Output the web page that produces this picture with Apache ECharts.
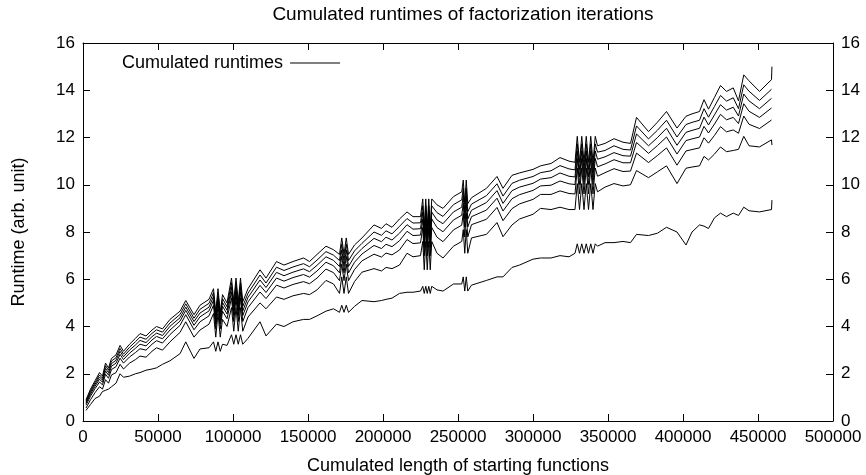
<!DOCTYPE html>
<html>
<head>
<meta charset="utf-8">
<script src="https://cdn.jsdelivr.net/npm/echarts@6/dist/echarts.min.js"></script>
<style>
html,body{margin:0;padding:0;background:#fff;}
#chart{width:866px;height:475px;}
</style>
</head>
<body>
<div id="chart"></div>
<script>
// Cumulated length of starting functions (shared x values)
var xValues = [
  2000,5000,8000,11000,13000,15000,17000,19000,22000,24700,27000,31000,35000,38000,42000,46000,49000,53000,58000,64700,68500,74000,78000,84000,
  87000,88500,90000,91500,93000,96000,
  99000,100500,102000,103500,105000,106500,110000,118000,122000,129000,134000,140000,147000,151000,156000,162000,167000,
  171000,172500,174000,175500,177000,181000,186000,194000,199000,202000,206000,211000,216000,220000,225000,
  226500,227500,228500,229500,230500,231500,232500,236000,240000,247000,
  252500,253500,254500,255500,256500,259000,269000,276000,280000,286000,291000,300000,305000,312000,318000,324000,
  328000,329500,331000,332500,334000,335500,337000,338500,340000,341500,343000,
  348000,354000,360000,365000,369000,377000,383000,389000,396000,402000,406000,411000,414000,417000,421000,425000,429000,433500,437000,440500,444000,451000,459000,459300
];
// Cumulated runtimes, iteration 1 .. 7
var iter1 = [
  0.45,0.7,0.95,1.05,1.25,1.3,1.35,1.45,1.6,2.0,1.85,1.9,2.0,2.05,2.15,2.2,2.25,2.4,2.55,2.85,3.35,2.65,3.05,3.1,
  3.35,2.95,3.35,2.95,3.25,3.2,
  3.65,3.25,3.65,3.25,3.65,3.25,3.5,4.2,3.6,4.1,4.0,4.2,4.3,4.3,4.45,4.65,4.75,
  4.6,4.9,4.6,4.9,4.6,4.85,5.1,5.05,5.1,5.15,5.2,5.4,5.45,5.45,5.5,
  5.7,5.4,5.7,5.4,5.7,5.4,5.7,5.55,5.5,5.8,
  5.8,6.1,5.5,6.1,5.5,5.75,5.95,6.1,6.1,6.5,6.6,6.85,6.9,6.9,7.0,6.95,
  7.1,7.5,7.1,7.5,7.1,7.5,7.1,7.5,7.1,7.5,7.4,
  7.55,7.55,7.6,7.55,7.9,7.85,7.95,8.2,8.0,7.45,8.0,8.3,8.25,8.15,8.6,8.8,8.65,8.8,8.7,9.05,8.9,8.85,8.95,9.35
];
var iter2 = [
  0.55,0.9,1.2,1.45,1.35,1.75,1.6,1.95,2.05,2.4,2.2,2.45,2.6,2.75,2.7,2.95,3.1,3.0,3.35,3.75,4.2,3.55,3.85,4.1,
  4.55,3.55,4.55,3.55,4.3,4.0,
  4.8,3.8,4.8,3.8,4.8,3.8,4.4,5.0,4.75,5.25,5.15,5.3,5.4,5.35,5.55,5.95,5.8,
  5.4,6.1,5.4,6.1,5.4,5.9,6.3,6.45,6.35,6.5,6.45,6.6,7.1,6.95,7.0,
  7.6,6.4,7.6,6.4,7.6,6.4,7.6,7.1,6.9,7.4,
  7.6,8.1,7.1,8.1,7.1,7.75,7.9,8.4,7.8,8.3,8.55,8.75,9.0,8.95,9.05,8.95,
  8.95,10.05,8.95,10.05,8.95,10.05,8.95,10.05,8.95,10.05,9.7,
  9.9,10.05,9.95,10.0,10.6,10.3,10.55,10.8,10.05,10.7,10.75,10.8,11.2,11.05,11.3,11.6,11.4,11.45,11.5,12.05,11.65,11.6,11.9,11.68
];
var iter3 = [
  0.67,1.05,1.37,1.65,1.53,1.98,1.81,2.18,2.30,2.66,2.45,2.71,2.90,3.06,3.0,3.25,3.40,3.30,3.66,4.05,4.50,3.86,4.20,4.45,
  4.90,3.90,4.90,3.90,4.65,4.33,
  5.21,4.21,5.21,4.21,5.21,4.21,4.80,5.46,5.18,5.75,5.63,5.78,5.90,5.81,6.05,6.43,6.28,
  5.94,6.64,5.94,6.64,5.94,6.41,6.78,7.06,6.94,7.11,7.03,7.24,7.68,7.51,7.54,
  8.19,6.99,8.19,6.99,8.19,6.99,8.19,7.78,7.59,8.09,
  8.29,8.79,7.79,8.79,7.79,8.31,8.54,9.04,8.48,8.99,9.19,9.38,9.59,9.59,9.74,9.63,
  9.61,10.71,9.61,10.71,9.61,10.71,9.61,10.71,9.61,10.71,10.36,
  10.51,10.68,10.56,10.58,11.34,10.94,11.24,11.56,10.83,11.43,11.49,11.56,11.99,11.76,12.09,12.46,12.24,12.32,12.18,12.91,12.56,12.38,12.74,12.74
];
var iter4 = [
  0.74,1.14,1.47,1.77,1.64,2.12,1.94,2.32,2.45,2.82,2.60,2.87,3.08,3.25,3.18,3.43,3.58,3.48,3.85,4.23,4.68,4.05,4.41,4.66,
  5.11,4.11,5.11,4.11,4.86,4.53,
  5.46,4.46,5.46,4.46,5.46,4.46,5.04,5.74,5.44,6.05,5.92,6.07,6.20,6.09,6.35,6.72,6.57,
  6.27,6.97,6.27,6.97,6.27,6.72,7.07,7.43,7.30,7.48,7.38,7.63,8.03,7.85,7.87,
  8.55,7.35,8.55,7.35,8.55,7.35,8.55,8.19,8.01,8.51,
  8.71,9.21,8.21,9.21,8.21,8.65,8.93,9.43,8.89,9.41,9.58,9.76,9.95,9.98,10.16,10.04,
  10.01,11.11,10.01,11.11,10.01,11.11,10.01,11.11,10.01,11.11,10.76,
  10.88,11.06,10.93,10.93,11.79,11.33,11.66,12.02,11.30,11.87,11.94,12.02,12.47,12.19,12.57,12.98,12.75,12.85,12.59,13.43,13.11,12.85,13.25,13.25
];
var iter5 = [
  0.79,1.21,1.55,1.86,1.73,2.23,2.05,2.43,2.57,2.95,2.72,3.0,3.22,3.41,3.32,3.57,3.72,3.62,4.01,4.37,4.82,4.21,4.57,4.82,
  5.27,4.27,5.27,4.27,5.02,4.69,
  5.66,4.66,5.66,4.66,5.66,4.66,5.23,5.97,5.65,6.29,6.15,6.30,6.44,6.32,6.59,6.95,6.80,
  6.54,7.24,6.54,7.24,6.54,6.97,7.30,7.73,7.59,7.78,7.66,7.95,8.31,8.12,8.14,
  8.84,7.64,8.84,7.64,8.84,7.64,8.84,8.51,8.35,8.85,
  9.05,9.55,8.55,9.55,8.55,8.92,9.25,9.75,9.21,9.75,9.90,10.06,10.24,10.30,10.50,10.36,
  10.33,11.43,10.33,11.43,10.33,11.43,10.33,11.43,10.33,11.43,11.08,
  11.18,11.36,11.23,11.21,12.15,11.65,12.0,12.39,11.67,12.22,12.30,12.39,12.86,12.53,12.96,13.39,13.16,13.28,12.91,13.84,13.55,13.22,13.66,13.66
];
var iter6 = [
  0.84,1.28,1.62,1.95,1.81,2.34,2.15,2.54,2.68,3.07,2.83,3.12,3.36,3.55,3.46,3.71,3.86,3.76,4.15,4.51,4.96,4.35,4.73,4.98,
  5.43,4.43,5.43,4.43,5.18,4.84,
  5.85,4.85,5.85,4.85,5.85,4.85,5.41,6.18,5.84,6.51,6.37,6.52,6.66,6.53,6.81,7.17,7.02,
  6.79,7.49,6.79,7.49,6.79,7.20,7.52,8.0,7.86,8.05,7.92,8.24,8.57,8.38,8.39,
  9.11,7.91,9.11,7.91,9.11,7.91,9.11,8.82,8.66,9.16,
  9.36,9.86,8.86,9.86,8.86,9.18,9.54,10.04,9.52,10.06,10.19,10.35,10.51,10.59,10.81,10.67,
  10.63,11.73,10.63,11.73,10.63,11.73,10.63,11.73,10.63,11.73,11.38,
  11.45,11.65,11.50,11.47,12.49,11.94,12.31,12.73,12.02,12.55,12.64,12.73,13.22,12.86,13.32,13.78,13.54,13.68,13.22,14.23,13.96,13.57,14.04,14.04
];
var iter7 = [
  0.9,1.35,1.7,2.05,1.9,2.45,2.25,2.65,2.8,3.2,2.95,3.25,3.5,3.7,3.6,3.85,4.0,3.9,4.3,4.65,5.1,4.5,4.9,5.15,
  5.6,4.6,5.6,4.6,5.35,5.0,
  6.05,5.05,6.05,5.05,6.05,5.05,5.6,6.4,6.05,6.75,6.6,6.75,6.9,6.75,7.05,7.4,7.25,
  7.05,7.75,7.05,7.75,7.05,7.45,7.75,8.3,8.15,8.35,8.2,8.55,8.85,8.65,8.65,
  9.4,8.2,9.4,8.2,9.4,8.2,9.4,9.15,9.0,9.5,
  9.7,10.2,9.2,10.2,9.2,9.45,9.85,10.35,9.85,10.4,10.5,10.65,10.8,10.9,11.15,11.0,
  10.95,12.05,10.95,12.05,10.95,12.05,10.95,12.05,10.95,12.05,11.65,
  11.75,11.95,11.8,11.75,12.85,12.25,12.65,13.1,12.4,12.9,13.0,13.1,13.6,13.2,13.7,14.2,13.95,14.1,13.55,14.65,14.4,13.95,14.45,15.0
];
var iterations = [iter1, iter2, iter3, iter4, iter5, iter6, iter7];
var seriesName = 'Cumulated runtimes';
var titleText = 'Cumulated runtimes of factorization iterations';
var xName = 'Cumulated length of starting functions';
var yName = 'Runtime (arb. unit)';

var FONT = '"Liberation Sans", Arial, Helvetica, sans-serif';
var FS = 17;   // tick labels
var FT = 18;   // axis names, legend

var series = iterations.map(function (ys) {
  return {
    name: seriesName,
    type: 'line',
    xAxisIndex: 0,
    yAxisIndex: 0,
    symbol: 'none',
    showSymbol: false,
    smooth: false,
    lineStyle: { color: '#000', width: 1 },
    itemStyle: { color: '#000' },
    emphasis: { disabled: true },
    data: xValues.map(function (x, i) { return [x, ys[i]]; })
  };
});

function xAx(pos, showLabel, withName) {
  return {
    type: 'value', position: pos, min: 0, max: 500000, interval: 50000,
    axisLine: { show: true, onZero: false, lineStyle: { color: '#000', width: 1 } },
    axisTick: { show: true, inside: true, length: 7, lineStyle: { color: '#000' } },
    axisLabel: { show: showLabel, color: '#000', fontSize: FS, fontFamily: FONT, margin: 8,
      formatter: function (v) { return String(v); } },
    splitLine: { show: false },
    name: withName ? xName : '',
    nameLocation: 'middle', nameGap: 36,
    nameTextStyle: { color: '#000', fontSize: FT, fontFamily: FONT }
  };
}
function yAx(pos, withName) {
  return {
    type: 'value', position: pos, min: 0, max: 16, interval: 2,
    axisLine: { show: true, onZero: false, lineStyle: { color: '#000', width: 1 } },
    axisTick: { show: true, inside: true, length: 7, lineStyle: { color: '#000' } },
    axisLabel: { show: true, color: '#000', fontSize: FS, fontFamily: FONT, margin: 8,
      formatter: function (v) { return String(v); } },
    splitLine: { show: false },
    name: withName ? yName : '',
    nameLocation: 'middle', nameGap: 55,
    nameTextStyle: { color: '#000', fontSize: FT, fontFamily: FONT }
  };
}

var chart = echarts.init(document.getElementById('chart'), null, { renderer: 'canvas' });
chart.setOption({
  animation: false,
  backgroundColor: '#fff',
  title: {
    text: titleText, left: 458, textAlign: 'center', top: 0,
    textStyle: { color: '#000', fontSize: 19, fontWeight: 'normal', fontFamily: FONT }
  },
  legend: {
    data: [{ name: seriesName, icon: 'rect' }], left: 117, top: 49, align: 'right',
    itemWidth: 50, itemHeight: 1, itemGap: 6,
    itemStyle: { color: '#000', borderWidth: 0 },
    textStyle: { color: '#000', fontSize: FT, fontFamily: FONT, padding: [0, 2, 0, 0] },
    selectedMode: false
  },
  grid: { left: 83, right: 33, top: 43, bottom: 54, containLabel: false, outerBoundsMode: 'none' },
  xAxis: [xAx('bottom', true, true), xAx('top', false, false)],
  yAxis: [yAx('left', true), yAx('right', false)],
  series: series
});
</script>
</body>
</html>
